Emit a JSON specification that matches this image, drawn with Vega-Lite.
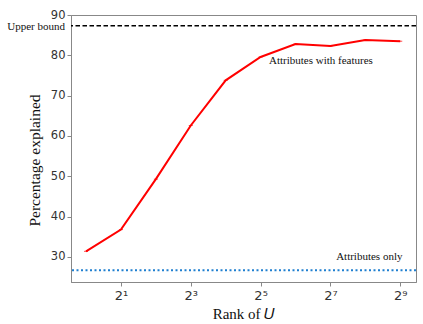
{
  "$schema": "https://vega.github.io/schema/vega-lite/v6.json",
  "autosize": "none",
  "width": 345,
  "height": 267,
  "padding": {"left": 71, "top": 15, "right": 7, "bottom": 42},
  "background": "white",
  "config": {
    "view": {"stroke": "#888888", "strokeWidth": 1},
    "axis": {"grid": false, "domainColor": "#888888", "tickColor": "#888888", "labelColor": "#333333", "labelFont": "DejaVu Sans", "labelFontSize": 11.5, "titleFont": "Liberation Serif", "titleFontWeight": "normal", "titleFontSize": 15, "titleColor": "#111111", "tickSize": 4}
  },
  "datasets": {
    "curve": [
      {"rank": 1, "pct": 31.4},
      {"rank": 2, "pct": 36.8},
      {"rank": 4, "pct": 49.3},
      {"rank": 8, "pct": 62.6},
      {"rank": 16, "pct": 73.8},
      {"rank": 32, "pct": 79.6},
      {"rank": 64, "pct": 82.8},
      {"rank": 128, "pct": 82.3},
      {"rank": 256, "pct": 83.8},
      {"rank": 512, "pct": 83.5}
    ],
    "refs": [
      {"name": "Upper bound", "pct": 87.35},
      {"name": "Attributes only", "pct": 26.7}
    ],
    "labels": [
      {"rank": 0.742, "pct": 87.0, "label": "Upper bound", "kind": "left"},
      {"rank": 106, "pct": 78.6, "label": "Attributes with features", "kind": "in"},
      {"rank": 277, "pct": 30.1, "label": "Attributes only", "kind": "right"}
    ]
  },
  "layer": [
    {
      "data": {"name": "refs"},
      "transform": [{"filter": "datum.name === 'Upper bound'"}],
      "mark": {"type": "rule", "color": "black", "strokeWidth": 1.5, "strokeDash": [4.5, 2.5]},
      "encoding": {"y": {"field": "pct", "type": "quantitative"}}
    },
    {
      "data": {"name": "refs"},
      "transform": [{"filter": "datum.name === 'Attributes only'"}],
      "mark": {"type": "rule", "color": "#1f7fd0", "strokeWidth": 2, "strokeDash": [2, 2.5]},
      "encoding": {"y": {"field": "pct", "type": "quantitative"}}
    },
    {
      "data": {"name": "curve"},
      "mark": {"type": "line", "color": "#ff0000", "strokeWidth": 2},
      "encoding": {
        "x": {"field": "rank", "type": "quantitative", "scale": {"type": "log", "base": 2, "domain": [0.742, 700], "nice": false},
          "axis": {"values": [2, 8, 32, 128, 512], "labelExpr": "datum.value == 2 ? '2¹' : datum.value == 8 ? '2³' : datum.value == 32 ? '2⁵' : datum.value == 128 ? '2⁷' : '2⁹'", "title": "Rank of 𝑈", "labelFontSize": 13, "labelPadding": 3, "titlePadding": 4}},
        "y": {"field": "pct", "type": "quantitative", "scale": {"domain": [23.8, 90], "nice": false, "zero": false},
          "axis": {"values": [30, 40, 50, 60, 70, 80, 90], "title": "Percentage explained", "titleFontSize": 15.5, "titleY": 145, "titlePadding": 8}}
      }
    },
    {
      "data": {"name": "curve"},
      "mark": {"type": "tick", "color": "#ff0000", "thickness": 1, "size": 4, "orient": "horizontal"},
      "encoding": {
        "x": {"field": "rank", "type": "quantitative"},
        "y": {"field": "pct", "type": "quantitative"}
      }
    },
    {
      "data": {"name": "labels"},
      "transform": [{"filter": "datum.kind === 'left'"}],
      "mark": {"type": "text", "font": "Liberation Serif", "fontSize": 11, "align": "right", "baseline": "middle", "dx": -6, "color": "#111111", "clip": false},
      "encoding": {"x": {"field": "rank", "type": "quantitative"}, "y": {"field": "pct", "type": "quantitative"}, "text": {"field": "label"}}
    },
    {
      "data": {"name": "labels"},
      "transform": [{"filter": "datum.kind !== 'left'"}],
      "mark": {"type": "text", "font": "Liberation Serif", "fontSize": 11, "align": "center", "baseline": "middle", "color": "#111111"},
      "encoding": {"x": {"field": "rank", "type": "quantitative"}, "y": {"field": "pct", "type": "quantitative"}, "text": {"field": "label"}}
    }
  ]
}
